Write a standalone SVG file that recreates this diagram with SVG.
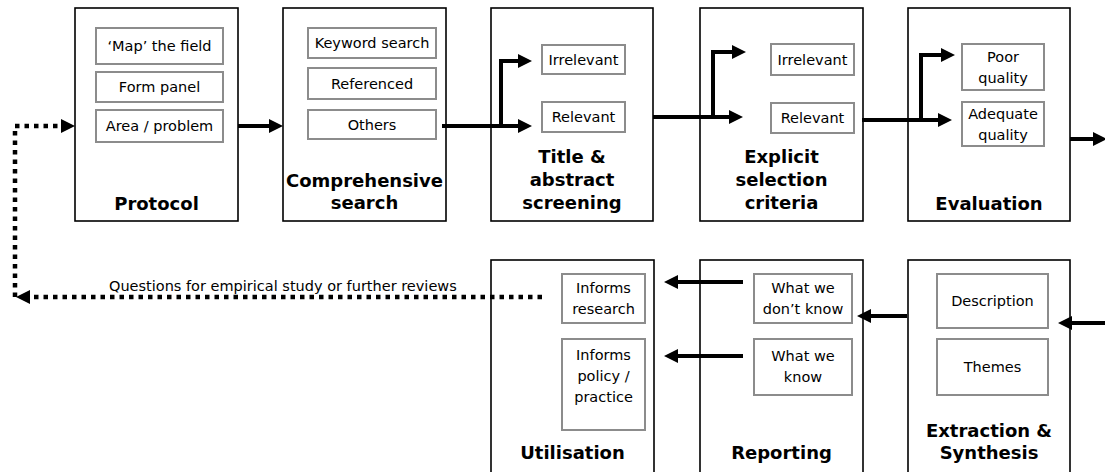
<svg xmlns="http://www.w3.org/2000/svg" width="1105" height="472" viewBox="0 0 1105 472">
  <style>
    .stage { fill: #ffffff; stroke: #000000; stroke-width: 1.6; }
    .item { fill: #ffffff; stroke: #8c8c8c; stroke-width: 2; }
    .title { font-family: "DejaVu Sans", Verdana, sans-serif; font-size: 18px; font-weight: bold; fill: #000000; text-anchor: middle; }
    .label { font-family: "DejaVu Sans", Verdana, sans-serif; font-size: 14.5px; fill: #000000; text-anchor: middle; }
    .note { font-family: "DejaVu Sans", Verdana, sans-serif; font-size: 14.5px; fill: #000000; text-anchor: start; }
    .flow { fill: none; stroke: #000000; stroke-width: 4; }
    .loop { fill: none; stroke: #000000; stroke-width: 4.5; stroke-dasharray: 4.5 5; }
  </style>
  <defs>
    <marker id="head" viewBox="0 0 14 14" refX="6" refY="7" markerWidth="14" markerHeight="14" markerUnits="userSpaceOnUse" orient="auto">
      <path d="M0,0 L14,7 L0,14 z" fill="#000000"/>
    </marker>
  </defs>

  <rect width="1105" height="472" fill="#ffffff"/>

  <!-- top row -->
  <g id="protocol">
    <rect class="stage" x="75" y="8" width="163" height="213"/>
    <rect class="item" x="96" y="28" width="127" height="36"/>
    <text class="label" x="159.5" y="51">‘Map’ the field</text>
    <rect class="item" x="96" y="72" width="127" height="30"/>
    <text class="label" x="159.5" y="92">Form panel</text>
    <rect class="item" x="96" y="110" width="127" height="32"/>
    <text class="label" x="159.5" y="131">Area / problem</text>
    <text class="title" x="156.5" y="210">Protocol</text>
  </g>

  <g id="search">
    <rect class="stage" x="283" y="8" width="163" height="213"/>
    <rect class="item" x="308" y="28" width="128" height="30"/>
    <text class="label" x="372" y="48">Keyword search</text>
    <rect class="item" x="308" y="68" width="128" height="31"/>
    <text class="label" x="372" y="88.5">Referenced</text>
    <rect class="item" x="308" y="110" width="128" height="29"/>
    <text class="label" x="372" y="129.5">Others</text>
    <text class="title" x="364.5" y="187">Comprehensive</text>
    <text class="title" x="364.5" y="209">search</text>
  </g>

  <g id="screening">
    <rect class="stage" x="491" y="8" width="162" height="213"/>
    <rect class="item" x="542" y="45" width="83" height="29"/>
    <text class="label" x="583.5" y="64.5">Irrelevant</text>
    <rect class="item" x="542" y="102" width="83" height="30"/>
    <text class="label" x="583.5" y="122">Relevant</text>
    <text class="title" x="572" y="163">Title &amp;</text>
    <text class="title" x="572" y="186">abstract</text>
    <text class="title" x="572" y="209">screening</text>
  </g>

  <g id="criteria">
    <rect class="stage" x="700" y="8" width="163" height="213"/>
    <rect class="item" x="771" y="44" width="83" height="31"/>
    <text class="label" x="812.5" y="64.5">Irrelevant</text>
    <rect class="item" x="771" y="103" width="83" height="30"/>
    <text class="label" x="812.5" y="123">Relevant</text>
    <text class="title" x="781.5" y="163">Explicit</text>
    <text class="title" x="781.5" y="186">selection</text>
    <text class="title" x="781.5" y="209">criteria</text>
  </g>

  <g id="evaluation">
    <rect class="stage" x="908" y="8" width="162" height="213"/>
    <rect class="item" x="962" y="44" width="82" height="46"/>
    <text class="label" x="1003" y="62">Poor</text>
    <text class="label" x="1003" y="83">quality</text>
    <rect class="item" x="962" y="102" width="82" height="44"/>
    <text class="label" x="1003" y="119">Adequate</text>
    <text class="label" x="1003" y="140">quality</text>
    <text class="title" x="989" y="210">Evaluation</text>
  </g>

  <!-- bottom row (runs past the lower edge) -->
  <g id="utilisation">
    <rect class="stage" x="491" y="260" width="163" height="230"/>
    <rect class="item" x="562" y="274" width="83" height="49"/>
    <text class="label" x="603.5" y="293">Informs</text>
    <text class="label" x="603.5" y="314">research</text>
    <rect class="item" x="562" y="339" width="83" height="91"/>
    <text class="label" x="603.5" y="360">Informs</text>
    <text class="label" x="603.5" y="381">policy /</text>
    <text class="label" x="603.5" y="402">practice</text>
    <text class="title" x="572.5" y="459">Utilisation</text>
  </g>

  <g id="reporting">
    <rect class="stage" x="700" y="260" width="163" height="230"/>
    <rect class="item" x="754" y="274" width="98" height="49"/>
    <text class="label" x="803" y="293">What we</text>
    <text class="label" x="803" y="314">don’t know</text>
    <rect class="item" x="754" y="339" width="98" height="56"/>
    <text class="label" x="803" y="361">What we</text>
    <text class="label" x="803" y="382">know</text>
    <text class="title" x="781.5" y="459">Reporting</text>
  </g>

  <g id="synthesis">
    <rect class="stage" x="908" y="260" width="162" height="230"/>
    <rect class="item" x="937" y="274" width="111" height="54"/>
    <text class="label" x="992.5" y="306">Description</text>
    <rect class="item" x="937" y="339" width="111" height="56"/>
    <text class="label" x="992.5" y="372">Themes</text>
    <text class="title" x="989" y="437">Extraction &amp;</text>
    <text class="title" x="989" y="459">Synthesis</text>
  </g>

  <!-- connectors -->
  <g id="connectors">
    <path class="flow" d="M238,126 H275" marker-end="url(#head)"/>
    <path class="flow" d="M442,126 H524" marker-end="url(#head)"/>
    <path class="flow" d="M501,126 V61 H524" marker-end="url(#head)"/>
    <path class="flow" d="M653,117 H735" marker-end="url(#head)"/>
    <path class="flow" d="M713,117 V52 H738" marker-end="url(#head)"/>
    <path class="flow" d="M862,120 H944" marker-end="url(#head)"/>
    <path class="flow" d="M921,120 V55 H947" marker-end="url(#head)"/>
    <path class="flow" d="M1070,139 H1099" marker-end="url(#head)"/>
    <path class="flow" d="M1105,323 H1066" marker-end="url(#head)"/>
    <path class="flow" d="M907,316 H865" marker-end="url(#head)"/>
    <path class="flow" d="M743,282 H672" marker-end="url(#head)"/>
    <path class="flow" d="M743,356 H672" marker-end="url(#head)"/>
    <path class="loop" d="M542,297 H24" marker-end="url(#head)"/>
    <path class="loop" d="M15,297 V126 H67" marker-end="url(#head)"/>
    <text class="note" x="109" y="291">Questions for empirical study or further reviews</text>
  </g>
</svg>
